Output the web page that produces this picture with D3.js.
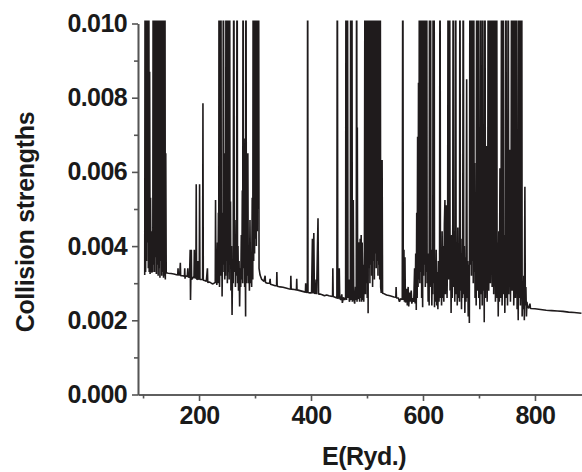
<!DOCTYPE html>
<html><head><meta charset="utf-8">
<script src="https://cdn.jsdelivr.net/npm/d3@7"></script>
<style>
body{margin:0;background:#fff}
svg text{font-family:"Liberation Sans",Arial,Helvetica,sans-serif;font-weight:bold;fill:#1a1a1a}
</style>
</head><body>
<svg id="chart" width="582" height="472"></svg>
<script>
// Axis ticks
const xMajorTicks = [200, 400, 600, 800];
const xMinorTicks = [100, 300, 500, 700];
const yMajorTicks = [0, 0.002, 0.004, 0.006, 0.008, 0.010];
const yMinorTicks = [0.001, 0.003, 0.005, 0.007, 0.009];
const xTitle = "E(Ryd.)";
const yTitle = "Collision strengths";

// Collision strength vs energy: [E (Ryd), Omega x 1e-3]; values > 10 run off the top
const band1 = [[103,3.22],[103.8,14],[104.6,3.3],[105.4,14],[106.2,3.6],[107,14],[107.8,4.1],[108.6,14],[109.4,3.4],[110.2,14],[111,3.3],[111.8,8.7],[112.6,3.25],[113.4,5.3],[114.2,3.3],[115,4.4],[115.8,3.28],[116.6,3.9],[117.4,3.3],[118.2,14],[119,3.5],[119.8,14],[120.6,3.3],[121.4,14],[122.2,3.7],[123,14],[123.8,3.25],[124.6,14],[125.4,3.5],[126.2,14],[127,3.2],[127.8,14],[128.6,3.4],[129.4,14],[130.2,3.15],[131,14],[131.8,3.6],[132.6,14],[133.4,3.2],[134.2,14],[135,3.3],[135.8,14],[136.6,3.15],[137.4,14],[138.2,3.2],[139,14],[139.8,3.1],[140.6,6.5],[141.4,3.28]];
const background1 = [[145,3.27],[150,3.26],[155,3.25],[160,3.23],[162,3.22],[162.5,3.4],[163,3.22],[165.5,3.22],[166.6,3.55],[167.2,3.2],[170,3.2],[174,3.19],[174.5,3.4],[175,3.12],[175.6,3.2],[179,3.18],[180,3.4],[180.6,3.17],[183,3.16],[184.2,3.9],[184.8,2.55],[185.5,3.2],[186.2,3.9],[186.8,3.1],[189,3.16],[191,3.15],[191.6,3.9],[192.2,3.15],[194.4,3.14],[195,5.67],[195.6,3.12],[197.5,3.1],[198.2,3.6],[198.8,3.1],[200.4,3.12],[201,5.67],[201.6,3.1],[204,3.1],[206.4,3.1],[207,7.85],[207.6,3.08],[210,3.07],[213,3.05],[215,3.4],[215.6,3.02],[219,3.03],[222,3.0],[225,2.98],[227,3.0]];
const band2 = [[229,3.02],[229.5,5.24],[230.2,3.0],[231,3.6],[231.8,2.95],[233,4.1],[233.8,3.0],[234.6,4.9],[235.2,3.1],[235.8,14],[236.6,2.9],[237.4,3.8],[238.2,3.2],[239,14],[239.8,3.4],[240.5,4.9],[241.2,2.64],[242,3.9],[242.8,3.3],[243.5,14],[244.3,3.5],[245.2,6.5],[246,3.1],[246.8,4.5],[247.5,3.2],[248.2,14],[249,3.6],[249.8,7.95],[250.6,3.0],[251.4,14],[252.2,3.3],[253,4.2],[253.8,3.1],[254.6,14],[255.4,3.5],[256.2,5.2],[257,2.8],[258,4.0],[259,2.14],[260,3.6],[261,3.0],[262.2,14],[263,3.3],[264,4.7],[265,2.9],[266,3.9],[267,3.2],[268,14],[268.8,3.0],[269.6,4.0],[270.5,2.8],[271.5,3.6],[272.5,2.37],[273.5,3.4],[274.5,2.9],[275.5,4.3],[276.5,3.1],[277.3,5.5],[278,3.0],[278.7,14],[279.5,3.4],[280.5,6.9],[281.5,2.9],[282.4,4.0],[283.2,2.1],[283.8,14],[284.6,3.0],[285.6,4.4],[286.4,3.2],[287.2,6.5],[288,3.0],[289,4.0],[290,2.8],[291,4.7],[292,3.0],[293,3.8],[294,2.9],[295,5.3],[296,3.1],[296.8,14],[297.6,3.6],[298.4,14],[299.2,3.8],[300,14],[300.8,4.2],[301.6,14],[302.4,4.0],[303.2,14],[304,4.4],[304.8,14],[305.6,5.0],[306.3,14]];
const background2 = [[307.2,3.4],[309,3.22],[312,3.1],[316,3.05],[318,3.2],[318.7,3.02],[322,3.0],[326,3.0],[327,3.12],[327.6,2.97],[332,2.95],[336,2.93],[338.5,2.93],[339,3.3],[339.6,2.92],[345,2.9],[350,2.89],[355,2.87],[360,2.85],[363.5,2.84],[364,3.2],[364.6,2.84],[370,2.83],[374,2.82],[374.5,3.12],[375,2.82],[380,2.8],[385,2.78],[390,2.76],[390.5,3.0],[391,2.76],[393.5,2.75],[394,14],[394.6,2.75],[398,2.74],[401,2.74],[402.5,4.2],[403.3,2.72],[405,4.35],[406,2.73],[408,2.72],[409,3.1],[410,2.7],[412.5,4.75],[413.5,2.7],[416,2.71],[420,2.69],[424,2.66],[428,2.68],[432,2.66],[436,2.65],[438.5,2.64],[439,3.4],[439.6,2.64],[443,2.62],[446.2,2.6],[447,14],[447.8,2.58],[449.5,2.62],[450.5,3.4],[451.3,2.6],[453,2.55],[455,2.7],[456,2.47],[458,2.62],[460,2.55],[461.8,2.6],[462.5,14],[463.5,2.55],[465,14],[466,2.6],[467.5,3.1],[468.5,2.5],[470.2,2.6],[471,14],[471.8,2.55],[473,14],[473.8,2.5],[475.5,5.24],[476.3,2.58],[478,2.45],[479.5,2.9],[480.8,2.55],[481.5,14],[482.2,2.5],[482.7,7.2],[483.4,2.58]];
const band3 = [[484,2.58],[486,4.1],[486.8,2.5],[487.8,4.2],[488.6,2.6],[489.6,4.3],[490.4,2.5],[491.4,4.1],[492.2,2.55],[493.4,3.5],[494.2,2.5],[495.4,3.9],[496.5,14],[497.3,2.7],[498,14],[498.8,3.0],[499.6,14],[500.4,2.6],[501.2,14],[502,2.19],[502.8,14],[503.6,3.4],[504.4,7.5],[505.2,3.0],[506,14],[506.8,3.5],[507.6,14],[508.4,3.2],[509.2,14],[510,2.9],[510.8,14],[511.6,3.6],[512.4,14],[513.2,3.1],[514,14],[514.8,3.8],[515.6,14],[516.4,3.4],[517.2,14],[518,3.6],[518.8,14],[519.6,3.2],[520.4,14],[521.2,3.5],[522,14],[522.8,3.1],[523.6,14],[524.4,2.9],[525.4,2.74],[527,6.32],[527.8,2.73],[530,2.72],[535,2.68],[541,2.66]];
const band4 = [[548,2.63],[551.5,2.62],[552,2.9],[552.6,2.6],[556,2.6],[558,2.5],[560,2.58],[563,2.56],[564,14],[564.8,2.55],[566,3.9],[566.8,2.5],[567.8,3.7],[568.6,2.48],[570,2.56],[571,2.85],[572,2.4],[573.5,2.9],[574.5,2.37],[576,2.75],[577,2.5],[579,2.8],[580,2.45],[582,2.6],[583.5,2.5],[585,3.4],[586,2.45],[587,3.8],[588,2.28],[588.8,4.9],[589.6,2.6],[590.4,6.95],[591.2,2.9],[592,8.4],[592.8,3.1],[593.6,14],[594.4,3.0],[595.2,14],[596,3.3],[596.8,14],[597.6,2.6],[598.6,3.8],[599.4,2.35],[600.2,14],[601,3.2],[601.8,14],[602.6,3.5],[603.4,14],[604.2,2.9],[605,14],[605.8,3.3],[606.6,14],[607.4,3.0],[608.4,3.8],[609.2,2.5],[610.2,3.4],[611,2.4],[611.8,14],[612.6,2.9],[613.4,14],[614.2,3.1],[615,3.9],[615.8,2.4],[616.6,3.5],[617.4,2.7],[618.2,14],[619,3.0],[619.8,14],[620.6,2.35],[621.6,3.6],[622.6,2.5],[623.6,3.9],[624.6,2.4],[625.6,3.3],[626.6,2.3],[627.6,3.6],[628.6,2.5],[629.6,3.4],[630.4,14],[631.2,2.6],[632.2,3.8],[633.2,2.4],[634.2,4.4],[635.2,2.6],[636.2,4.0],[637.2,2.5],[638.2,4.6],[639.2,5.24],[640,2.7],[641,4.5],[642,5.1],[643,2.6],[644,4.2],[645,14],[645.8,3.1],[646.8,4.8],[647.6,14],[648.4,2.8],[649.4,4.0],[650.2,2.2],[651.2,4.3],[652.2,2.6],[653.2,4.6],[654,14],[654.8,2.9],[655.8,4.4],[656.8,2.5],[657.6,4.0],[658.4,14],[659.2,2.7],[660.2,4.1],[661.2,2.4],[662.2,4.5],[663.2,2.6],[664.2,3.9],[665.2,2.5],[666,14],[666.8,2.8],[667.8,4.2],[668.8,2.3],[669.8,3.8],[670.8,2.6],[672,14],[672.8,2.7],[673.8,4.0],[674.8,2.2],[675.8,3.7],[676.8,2.5],[678,8.5],[678.8,2.6],[679.8,3.6],[680.8,2.1],[681.8,3.5],[682.8,1.93]];
const band5 = [[684,14],[684.8,3.5],[685.8,6.2],[686.6,3.2],[687.4,14],[688.2,3.6],[689,6.0],[689.8,3.0],[690.6,14],[691.4,3.3],[692.2,6.24],[693,2.6],[694,4.5],[695,2.4],[696,14],[696.8,2.8],[697.8,4.4],[698.8,14],[699.6,2.6],[700.6,3.9],[701.6,2.3],[703,14],[703.8,2.7],[704.8,4.2],[705.8,2.4],[706.6,14],[707.4,2.8],[708.4,4.5],[709.4,1.95],[710.7,14],[711.5,2.6],[712.5,4.0],[713.7,6.7],[714.6,2.5],[715.6,4.3],[716.6,14],[717.4,2.8],[718.4,4.6],[719.6,14],[720.4,3.0],[721.4,4.2],[722.7,14],[723.5,2.9],[724.5,4.5],[725.5,14],[726.3,2.7],[727.3,4.0],[728.6,14],[729.4,2.5],[730.4,3.8],[731.6,14],[732.4,2.6],[733.4,4.1],[734.4,2.1],[735.4,4.4],[736.4,2.5],[737.5,6.1],[738.4,2.6],[739.4,4.0],[740.5,14],[741.3,2.4],[742.3,3.9],[743.4,14],[744.2,2.7],[745.2,4.3],[746.2,2.2],[747.2,3.9],[748.2,14],[749,2.6],[750,4.0],[751,2.4],[752.3,14],[753.1,2.7],[754.1,4.2],[755.4,6.6],[756.2,2.5],[757.2,4.0],[758.4,14],[759.2,2.8],[760.2,4.4],[761.3,14],[762.1,2.4],[763.1,3.8],[764.3,14],[765.1,2.6],[766.1,4.0],[767.3,14],[768.1,2.3],[769.1,3.6],[770.1,2.0],[771.4,14],[772.2,2.6],[773.2,14],[774,2.4],[775,3.4],[776.3,14],[777.1,2.1],[778.1,3.0],[779.1,2.3],[780.1,3.2],[781,2.0],[782,5.6],[782.8,2.4],[783.8,2.9],[784.8,2.1],[785.6,2.5],[787,2.35],[789,2.33]];
const background3 = [[791,2.45],[792,2.32],[800,2.31],[810,2.29],[820,2.27],[830,2.26],[840,2.25],[850,2.24],[860,2.22],[870,2.21],[883,2.19]];

const series = [].concat(band1, background1, band2, background2, band3, band4, band5, background3)
  .map(d => ({E: d[0], omega: d[1] / 1000}));

const svg = d3.select("#chart");
const x = d3.scaleLinear().domain([91, 884]).range([138, 582]);
const y = d3.scaleLinear().domain([0, 0.010]).range([394.5, 23.5]);

svg.append("defs").append("clipPath").attr("id", "plotclip")
  .append("rect").attr("x", 138).attr("y", 20.5).attr("width", 444).attr("height", 374);

svg.append("path")
  .datum(series)
  .attr("clip-path", "url(#plotclip)")
  .attr("fill", "none")
  .attr("stroke", "#1f1b1c")
  .attr("stroke-width", 1.6)
  .attr("stroke-linejoin", "bevel")
  .attr("d", d3.line().x(d => x(d.E)).y(d => y(d.omega)));

const axisColor = "#555";
function styleAxis(g){
  g.select(".domain").attr("stroke", axisColor).attr("stroke-width", 1.6);
  g.selectAll(".tick line").attr("stroke", axisColor).attr("stroke-width", 1.6);
  g.selectAll("text").attr("font-size", 25).attr("letter-spacing", "-0.6").attr("fill", "#1a1a1a")
    .attr("font-family", "'Liberation Sans', Arial, sans-serif").attr("font-weight", "bold");
}

// minor ticks
svg.append("g").attr("transform", "translate(0,394.5)")
  .call(d3.axisBottom(x).tickValues(xMinorTicks).tickSize(4).tickSizeOuter(0).tickFormat(""))
  .call(styleAxis);
svg.append("g").attr("transform", "translate(138,0)")
  .call(d3.axisLeft(y).tickValues(yMinorTicks).tickSize(4).tickSizeOuter(0).tickFormat(""))
  .call(styleAxis);

// major ticks
svg.append("g").attr("transform", "translate(0,394.5)")
  .call(d3.axisBottom(x).tickValues(xMajorTicks).tickSize(6.5).tickSizeOuter(0).tickPadding(5).tickFormat(d3.format("d")))
  .call(styleAxis);
svg.append("g").attr("transform", "translate(138,0)")
  .call(d3.axisLeft(y).tickValues(yMajorTicks).tickSize(6).tickSizeOuter(0).tickPadding(5).tickFormat(d3.format(".3f")))
  .call(styleAxis);

svg.append("text").attr("x", 364).attr("y", 465).attr("text-anchor", "middle")
  .attr("font-size", 25).attr("letter-spacing", "-0.5").text(xTitle);
svg.append("text").attr("transform", "translate(34,222) rotate(-90)").attr("text-anchor", "middle")
  .attr("font-size", 25).attr("letter-spacing", "-0.3").text(yTitle);
</script>
</body></html>
